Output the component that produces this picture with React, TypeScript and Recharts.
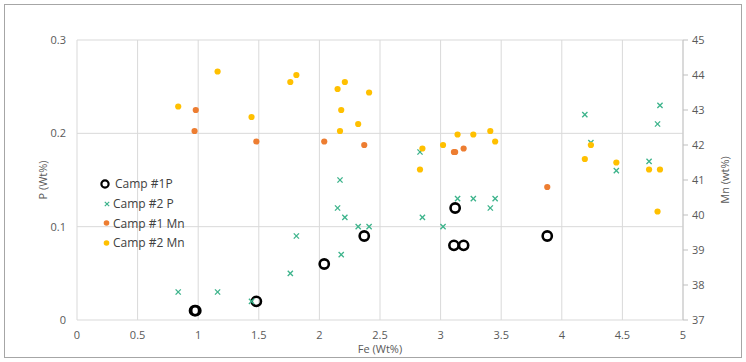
import React from 'react';
import { ScatterChart, Scatter, XAxis, YAxis, CartesianGrid, Legend } from 'recharts';

const xTicks = [0, 0.5, 1, 1.5, 2, 2.5, 3, 3.5, 4, 4.5, 5];
const pTicks = [0, 0.1, 0.2, 0.3];
const mnTicks = [37, 38, 39, 40, 41, 42, 43, 44, 45];

const camp1Fe = [0.97, 0.98, 1.48, 2.04, 2.37, 3.11, 3.12, 3.19, 3.88];
const camp1P = [0.01, 0.01, 0.02, 0.06, 0.09, 0.08, 0.12, 0.08, 0.09];
const camp1Mn = [42.4, 43.0, 42.1, 42.1, 42.0, 41.8, 41.8, 41.9, 40.8];

const camp2Fe = [0.835, 1.16, 1.44, 1.76, 1.81, 2.15, 2.17, 2.18, 2.21, 2.32, 2.41, 2.83, 2.85, 3.02, 3.14, 3.27, 3.41, 3.45, 4.19, 4.24, 4.45, 4.72, 4.79, 4.81];
const camp2P = [0.03, 0.03, 0.02, 0.05, 0.09, 0.12, 0.15, 0.07, 0.11, 0.10, 0.10, 0.18, 0.11, 0.10, 0.13, 0.13, 0.12, 0.13, 0.22, 0.19, 0.16, 0.17, 0.21, 0.23];
const camp2Mn = [43.1, 44.1, 42.8, 43.8, 44.0, 43.6, 42.4, 43.0, 43.8, 42.6, 43.5, 41.3, 41.9, 42.0, 42.3, 42.3, 42.4, 42.1, 41.6, 42.0, 41.5, 41.3, 40.1, 41.3];

const seriesNames = ['Camp #1P', 'Camp #2 P', 'Camp #1 Mn', 'Camp #2 Mn'];
const xTitle = 'Fe (Wt%)';
const pTitle = 'P (Wt%)';
const mnTitle = 'Mn (wt%)';

const COLORS = { p1: '#000000', p2: '#3cb38b', mn1: '#ed7d31', mn2: '#ffc000' };
const FONT = '"Open Sans", sans-serif';
const TEXT = '#595959';

const zip = (xs: number[], ys: number[]) => xs.map((x, i) => ({ x, y: ys[i] }));
const d1P = zip(camp1Fe, camp1P);
const d2P = zip(camp2Fe, camp2P);
const d1Mn = zip(camp1Fe, camp1Mn);
const d2Mn = zip(camp2Fe, camp2Mn);

const RingShape = (props: any) => (
  <circle cx={props.cx} cy={props.cy} r={4.6} fill="none" stroke={COLORS.p1} strokeWidth={2.6} />
);
const CrossShape = (props: any) => {
  const { cx, cy } = props;
  const s = 2.6;
  return (
    <g stroke={COLORS.p2} strokeWidth={1.3}>
      <line x1={cx - s} y1={cy - s} x2={cx + s} y2={cy + s} />
      <line x1={cx - s} y1={cy + s} x2={cx + s} y2={cy - s} />
    </g>
  );
};
const DotShape = (color: string) => (props: any) => (
  <circle cx={props.cx} cy={props.cy} r={3.1} fill={color} stroke="none" />
);

const legendIcons = [
  <circle cx={5} cy={7} r={3.6} fill="none" stroke={COLORS.p1} strokeWidth={2.2} />,
  <g stroke={COLORS.p2} strokeWidth={1.2}>
    <line x1={4.8} y1={4.8} x2={9.2} y2={9.2} />
    <line x1={4.8} y1={9.2} x2={9.2} y2={4.8} />
  </g>,
  <circle cx={6.5} cy={7} r={2.8} fill={COLORS.mn1} />,
  <circle cx={6.5} cy={7} r={2.8} fill={COLORS.mn2} />,
];

const LegendContent = () => (
  <div style={{ fontFamily: FONT, fontSize: 12, color: '#404040' }}>
    {seriesNames.map((n, i) => (
      <div key={n} style={{ display: 'flex', alignItems: 'center', height: 19.7 }}>
        <svg width={14} height={14} style={{ display: 'block' }}>{legendIcons[i]}</svg>
        <span style={{ marginLeft: i === 0 ? 1 : -1, whiteSpace: 'nowrap' }}>{n}</span>
      </div>
    ))}
  </div>
);

const XTitle = (props: any) => {
  const vb = props.viewBox;
  return (
    <text x={vb.x + vb.width / 2} y={vb.y + 33} textAnchor="middle" fontFamily={FONT} fontSize={11} fill={TEXT}>
      {xTitle}
    </text>
  );
};
const PTitle = (props: any) => {
  const vb = props.viewBox;
  const cx = vb.x + 42;
  const cy = vb.y + vb.height / 2;
  return (
    <text x={cx} y={cy} textAnchor="middle" dominantBaseline="central" transform={`rotate(-90, ${cx}, ${cy})`} fontFamily={FONT} fontSize={11} fill={TEXT}>
      {pTitle}
    </text>
  );
};
const MnTitle = (props: any) => {
  const vb = props.viewBox;
  const cx = vb.x + 41;
  const cy = vb.y + vb.height / 2;
  return (
    <text x={cx} y={cy} textAnchor="middle" dominantBaseline="central" transform={`rotate(-90, ${cx}, ${cy})`} fontFamily={FONT} fontSize={11} fill={TEXT}>
      {mnTitle}
    </text>
  );
};

export default function App() {
  return (
    <div style={{ position: 'fixed', left: 0, top: 0, width: 746, height: 362, background: '#fff' }}>
      <div style={{ position: 'absolute', left: 4, top: 4, width: 736, height: 352, border: '1px solid #a6a6a6' }} />
      <div style={{ position: 'absolute', left: 0, top: 0 }}>
        <ScatterChart width={746} height={362} margin={{ top: 40, right: 0, bottom: 0, left: 0 }} style={{ fontFamily: FONT }}>
          <CartesianGrid stroke="#d9d9d9" strokeWidth={1} yAxisId="p" />
          <XAxis
            type="number"
            dataKey="x"
            domain={[0, 5]}
            ticks={xTicks}
            height={42}
            axisLine={false}
            tickLine={false}
            tickSize={0}
            tickMargin={11}
            tick={{ fill: TEXT, fontSize: 11, fontFamily: FONT }}
            interval={0}
            label={<XTitle />}
          />
          <YAxis
            yAxisId="p"
            type="number"
            dataKey="y"
            orientation="left"
            domain={[0, 0.3]}
            ticks={pTicks}
            width={77}
            axisLine={false}
            tickLine={false}
            tickSize={0}
            tickMargin={11}
            tick={{ fill: TEXT, fontSize: 11, fontFamily: FONT }}
            interval={0}
            label={<PTitle />}
          />
          <YAxis
            yAxisId="mn"
            type="number"
            dataKey="y"
            orientation="right"
            domain={[37, 45]}
            ticks={mnTicks}
            width={63}
            axisLine={{ stroke: '#c8c8c8' }}
            tickLine={{ stroke: '#bfbfbf' }}
            tickSize={5}
            tickMargin={4}
            tick={{ fill: TEXT, fontSize: 11, fontFamily: FONT }}
            interval={0}
            label={<MnTitle />}
          />
          <Legend
            layout="vertical"
            align="center"
            verticalAlign="middle"
            content={<LegendContent />}
            wrapperStyle={{ left: 100, top: 174, width: 100 }}
          />
          <Scatter name={seriesNames[0]} data={d1P} yAxisId="p" shape={RingShape} isAnimationActive={false} />
          <Scatter name={seriesNames[1]} data={d2P} yAxisId="p" shape={CrossShape} isAnimationActive={false} />
          <Scatter name={seriesNames[2]} data={d1Mn} yAxisId="mn" shape={DotShape(COLORS.mn1)} isAnimationActive={false} />
          <Scatter name={seriesNames[3]} data={d2Mn} yAxisId="mn" shape={DotShape(COLORS.mn2)} isAnimationActive={false} />
        </ScatterChart>
      </div>
    </div>
  );
}
